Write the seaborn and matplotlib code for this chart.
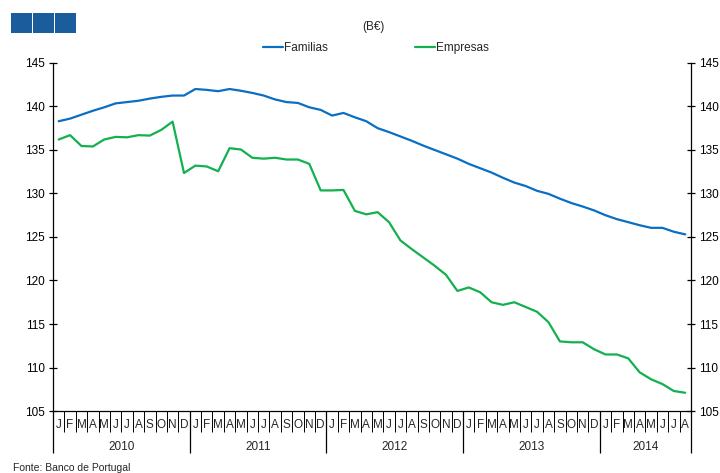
"""
Familias / Empresas stock (B€), monthly Jan 2010 - Aug 2014.
"""
import numpy as np
import pandas as pd
import matplotlib
matplotlib.use("Agg")
import matplotlib.pyplot as plt
from matplotlib.patches import Rectangle
import seaborn as sns

# %%
years = ["2010", "2011", "2012", "2013", "2014"]
month_letters = ["J", "F", "M", "A", "M", "J", "J", "A", "S", "O", "N", "D"]

familias = [138.3, 138.6, 139.05, 139.5, 139.9, 140.35, 140.5, 140.65, 140.9, 141.1, 141.25, 141.25,
            142.0, 141.9, 141.75, 142.0, 141.8, 141.55, 141.25, 140.8, 140.5, 140.4, 139.9, 139.6,
            138.95, 139.25, 138.75, 138.3, 137.5, 137.05, 136.55, 136.05, 135.5, 135.0, 134.5, 134.0,
            133.4, 132.9, 132.4, 131.8, 131.25, 130.85, 130.3, 129.95, 129.4, 128.9, 128.5, 128.05,
            127.5, 127.05, 126.7, 126.35, 126.05, 126.05, 125.6, 125.3]
empresas = [136.2, 136.7, 135.45, 135.4, 136.2, 136.5, 136.45, 136.7, 136.65, 137.3, 138.25, 132.35,
            133.2, 133.1, 132.55, 135.2, 135.05, 134.1, 134.0, 134.1, 133.9, 133.9, 133.4, 130.35,
            130.35, 130.4, 128.0, 127.6, 127.85, 126.7, 124.6, 123.6, 122.65, 121.7, 120.65, 118.8,
            119.2, 118.65, 117.5, 117.2, 117.5, 116.95, 116.4, 115.2, 113.0, 112.9, 112.9, 112.1,
            111.5, 111.5, 111.05, 109.45, 108.65, 108.1, 107.3, 107.1]

n = len(familias)
months = [month_letters[i % 12] for i in range(n)]
df = pd.DataFrame({"idx": np.arange(n), "Familias": familias, "Empresas": empresas})

# %%
sns.set_style("white")
plt.rcParams["font.family"] = ["Liberation Sans", "DejaVu Sans"]

fig = plt.figure(figsize=(7.2, 4.73), dpi=100)
ax = fig.add_axes([0.0736, 0.131, 0.886, 0.736])

blue = "#0A6FC2"
green = "#12B04E"
sns.lineplot(x="idx", y="Familias", data=df, ax=ax, color=blue, lw=1.6, label="Familias")
sns.lineplot(x="idx", y="Empresas", data=df, ax=ax, color=green, lw=1.6, label="Empresas")

ax.set_xlim(-0.5, n - 0.5)
ax.set_ylim(105, 145)
ax.set_yticks(range(105, 146, 5))
ax.set_xlabel("")
ax.set_ylabel("")

for s in ["left", "right", "bottom"]:
    ax.spines[s].set_visible(True)
    ax.spines[s].set_color("black")
    ax.spines[s].set_linewidth(0.9)
ax.spines["top"].set_visible(False)

ax.tick_params(axis="y", which="major", direction="inout", length=6, width=0.9,
               left=True, right=True, labelleft=True, labelright=True,
               labelsize=8.5, pad=3, colors="black")

# month separators (minor) and year separators (major)
year_bounds = [-0.5] + [11.5 + 12 * k for k in range(len(years) - 1)] + [n - 0.5]
ax.set_xticks(year_bounds)
ax.set_xticklabels([])
ax.set_xticks(np.arange(-0.5, n, 1.0), minor=True)
ax.tick_params(axis="x", which="major", bottom=True, direction="out", length=30.5, width=0.9,
               colors="black")
ax.tick_params(axis="x", which="minor", bottom=True, direction="out", length=15, width=0.7,
               colors="black")

trans = ax.get_xaxis_transform()
for i, m in enumerate(months):
    ax.text(i, -0.04, m, transform=trans, ha="center", va="center", fontsize=8.5)
for k, yr in enumerate(years):
    lo = year_bounds[k]
    hi = year_bounds[k + 1]
    ax.text((lo + hi) / 2, -0.103, yr, transform=trans, ha="center", va="center", fontsize=8.5)

ax.get_legend().remove()
fig.legend(loc="center", bbox_to_anchor=(0.522, 0.899), ncol=2, frameon=False, fontsize=8.5,
           handlelength=1.7, handletextpad=0.1, columnspacing=7.4)

fig.text(0.518, 0.943, "(B€)", ha="center", va="center", fontsize=8.5)
fig.text(0.018, 0.011, "Fonte: Banco de Portugal", ha="left", va="center", fontsize=7.5)

# header squares
for x0 in [11, 33, 55]:
    fig.patches.append(Rectangle((x0 / 720, 1 - 33 / 473), 21 / 720, 20 / 473,
                                 transform=fig.transFigure, color="#1B5C9C", lw=0))

fig.savefig("out.png", dpi=100)
